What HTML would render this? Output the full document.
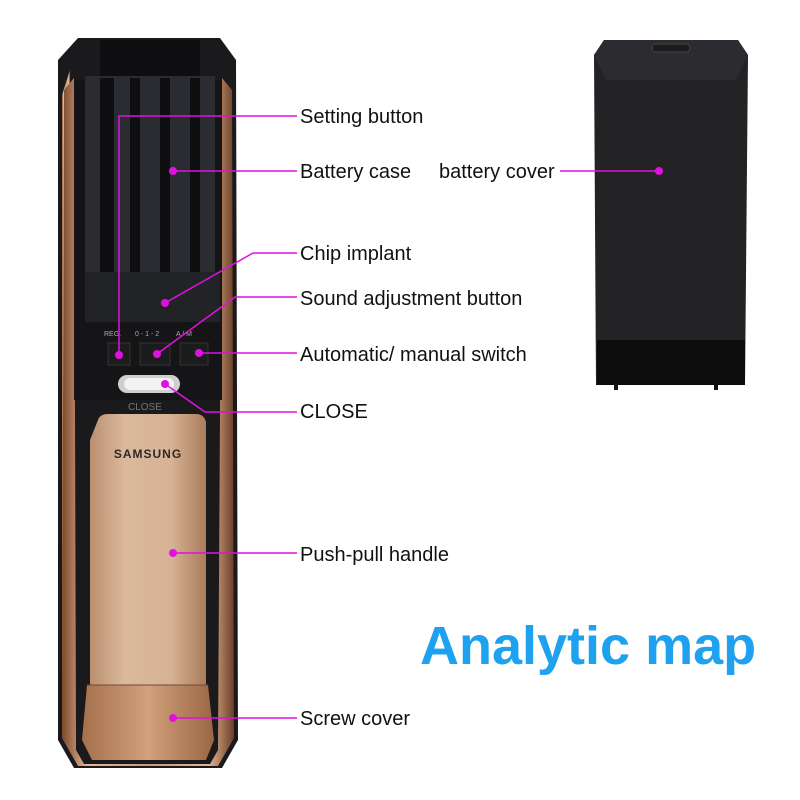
<!DOCTYPE html>
<html><head><style>
html,body{margin:0;padding:0;background:#fff;width:800px;height:800px;overflow:hidden}
svg text{font-family:"Liberation Sans",Arial,sans-serif}
</style></head><body>
<svg width="800" height="800" viewBox="0 0 800 800" xmlns="http://www.w3.org/2000/svg">
<defs>
<linearGradient id="gold" x1="0" x2="1">
<stop offset="0" stop-color="#7a4a2a"/><stop offset="0.15" stop-color="#e8b898"/><stop offset="0.5" stop-color="#c99a78"/><stop offset="0.85" stop-color="#e6b594"/><stop offset="1" stop-color="#6a3f25"/>
</linearGradient>
<linearGradient id="handle" x1="0" x2="1">
<stop offset="0" stop-color="#b98f70"/><stop offset="0.3" stop-color="#dcb99c"/><stop offset="0.7" stop-color="#d7b294"/><stop offset="1" stop-color="#a97c5c"/>
</linearGradient>
<linearGradient id="screw" x1="0" x2="1">
<stop offset="0" stop-color="#a5704c"/><stop offset="0.5" stop-color="#d3a07c"/><stop offset="1" stop-color="#9a6644"/>
</linearGradient>
</defs>
<path d="M78 38 L220 38 L236 60 L238 740 L222 768 L74 768 L58 740 L58 60 Z" fill="#1a1a1c"/>
<path d="M62 95 L70 70 L70 745 L62 735 Z" fill="url(#gold)"/>
<path d="M64 90 L74 78 L76 750 L84 764 L210 764 L218 750 L222 78 L232 90 L234 738 L218 766 L78 766 L62 738 Z" fill="url(#gold)"/>
<path d="M74 80 L222 80 L222 400 L74 400 Z" fill="#151517"/>
<rect x="85" y="76" width="130" height="200" fill="#2b2c31"/>
<rect x="100" y="78" width="14" height="196" fill="#0f0f11"/>
<rect x="130" y="78" width="10" height="196" fill="#0f0f11"/>
<rect x="160" y="78" width="10" height="196" fill="#0f0f11"/>
<rect x="190" y="78" width="10" height="196" fill="#0f0f11"/>
<rect x="100" y="40" width="100" height="36" fill="#0e0e10"/>
<rect x="85" y="272" width="135" height="50" fill="#222326"/>
<text x="104" y="336" font-size="7" fill="#aaa">REG.</text>
<text x="135" y="336" font-size="7" fill="#aaa">0 - 1 - 2</text>
<text x="176" y="336" font-size="7" fill="#aaa">A / M</text>
<rect x="108" y="343" width="22" height="22" fill="#1c1c1e" stroke="#333"/>
<rect x="140" y="343" width="30" height="22" fill="#1c1c1e" stroke="#333"/>
<rect x="180" y="343" width="28" height="22" fill="#1c1c1e" stroke="#333"/>
<rect x="118" y="375" width="62" height="18" rx="9" fill="#cfcfcf"/>
<rect x="124" y="378" width="50" height="12" rx="6" fill="#f2f2f2"/>
<text x="128" y="410" font-size="10" fill="#777">CLOSE</text>
<path d="M98 420 Q100 414 108 414 L196 414 Q204 414 206 422 L206 685 L90 685 L90 440 Z" fill="url(#handle)"/>
<text x="148" y="458" font-size="12" font-weight="bold" fill="#2a2a2a" text-anchor="middle" letter-spacing="1">SAMSUNG</text>
<path d="M87 685 L208 685 L214 740 L206 760 L92 760 L82 740 Z" fill="url(#screw)"/>
<line x1="87" y1="685" x2="208" y2="685" stroke="#6e4a33" stroke-width="1"/>
<path d="M604 40 L738 40 L748 55 L745 385 L596 385 L594 55 Z" fill="#232326"/>
<path d="M604 40 L738 40 L748 55 L736 80 L606 80 L594 55 Z" fill="#2c2c30"/>
<rect x="652" y="44" width="38" height="8" rx="4" fill="#1b1b1d" stroke="#444"/>
<rect x="597" y="340" width="148" height="45" fill="#0c0c0d"/>
<rect x="614" y="385" width="4" height="5" fill="#111"/>
<rect x="714" y="385" width="4" height="5" fill="#111"/>
<g stroke="#e011e0" stroke-width="1.5" fill="none">
<polyline points="119,355 119,116 297,116"/>
<polyline points="173,171 297,171"/>
<polyline points="165,303 253,253 297,253"/>
<polyline points="157,354 235,297 297,297"/>
<polyline points="199,353 297,353"/>
<polyline points="165,384 205,412 297,412"/>
<polyline points="173,553 297,553"/>
<polyline points="173,718 297,718"/>
<polyline points="560,171 659,171"/>
</g>
<g fill="#e011e0">
<circle cx="119" cy="355" r="4"/><circle cx="173" cy="171" r="4"/><circle cx="165" cy="303" r="4"/>
<circle cx="157" cy="354" r="4"/><circle cx="199" cy="353" r="4"/><circle cx="165" cy="384" r="4"/>
<circle cx="173" cy="553" r="4"/><circle cx="173" cy="718" r="4"/><circle cx="659" cy="171" r="4"/>
</g>
<g font-size="20" fill="#111">
<text x="300" y="123">Setting button</text>
<text x="300" y="178">Battery case</text>
<text x="439" y="178">battery cover</text>
<text x="300" y="260">Chip implant</text>
<text x="300" y="305">Sound adjustment button</text>
<text x="300" y="361">Automatic/ manual switch</text>
<text x="300" y="418">CLOSE</text>
<text x="300" y="561">Push-pull handle</text>
<text x="300" y="725">Screw cover</text>
</g>
<text x="420" y="664" font-size="54" font-weight="bold" fill="#1ea1ee">Analytic map</text>
</svg>
</body></html>
